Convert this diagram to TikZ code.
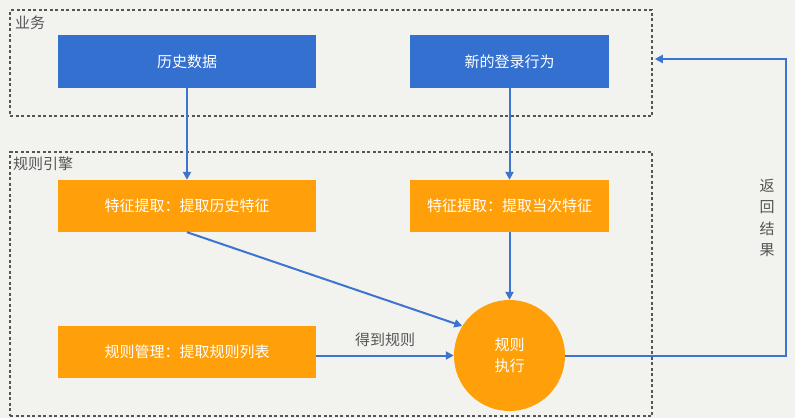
\documentclass[tikz,border=0pt]{standalone}
\usepackage{fontspec}
\setmainfont{Noto Sans CJK SC}
\usepackage{tikz}
\usetikzlibrary{arrows.meta}
\definecolor{bizblue}{HTML}{3470D0}
\definecolor{ruleorange}{HTML}{FFA00A}
\definecolor{bggray}{HTML}{F2F2EE}
\definecolor{dashgray}{HTML}{555555}
\definecolor{linkblue}{HTML}{3D74D0}
\begin{document}
\begin{tikzpicture}[x=1pt,y=-1pt,font=\fontsize{15}{17}\selectfont,
    area/.style={draw=dashgray,line width=1.6pt,dash pattern=on 3pt off 2.5pt,inner sep=0pt},
    arealabel/.style={text=dashgray,anchor=west,inner sep=0pt},
    bizbox/.style={fill=bizblue,text=white,minimum height=53pt,inner sep=0pt},
    rulebox/.style={fill=ruleorange,text=white,minimum height=52pt,inner sep=0pt},
    flow/.style={draw=linkblue,line width=2pt,-{Triangle[length=8pt,width=8pt]}}]
    \fill[bggray] (0,0) rectangle (795,418);
    \useasboundingbox (0,0) rectangle (795,418);
    \node[area,minimum width=642pt,minimum height=106pt] (biz) at (331,63) {};
    \node[area,minimum width=642pt,minimum height=264pt] (engine) at (331,284) {};
    \node[arealabel] (bizlabel) at (15,23) {业务};
    \node[arealabel] (enginelabel) at (13,164) {规则引擎};

    \node[bizbox,minimum width=258pt] (history) at (187,61.5) {历史数据};
    \node[bizbox,minimum width=199pt] (login) at (509.5,61.5) {新的登录行为};
    \node[rulebox,minimum width=258pt] (histfeat) at (187,206) {特征提取：提取历史特征};
    \node[rulebox,minimum width=199pt] (curfeat) at (509.5,206) {特征提取：提取当次特征};
    \node[rulebox,minimum width=258pt] (rulemgmt) at (187,352) {规则管理：提取规则列表};
    \node[circle,fill=ruleorange,text=white,minimum size=111pt,inner sep=0pt,align=center,
        font=\fontsize{15}{21}\selectfont] (exec) at (509.5,355.5) {规则\\执行};

    \draw[flow] (history) -- (histfeat);
    \draw[flow] (login) -- (curfeat);
    \draw[flow] (curfeat) -- (exec);
    \draw[flow] (histfeat.south) -- (exec.148);
    \draw[flow] (rulemgmt.east |- exec) -- node[above=4pt,text=dashgray] (gotrules) {得到规则} (exec.west);
    \coordinate (retcorner) at (786,59);
    \draw[flow] (exec.east) -| (retcorner) -- ([xshift=2pt]biz.east |- retcorner);
    \node[text=dashgray,align=center,font=\fontsize{15}{21.5}\selectfont] (retlabel) at (767,218) {返\\回\\结\\果};
\end{tikzpicture}
\end{document}
